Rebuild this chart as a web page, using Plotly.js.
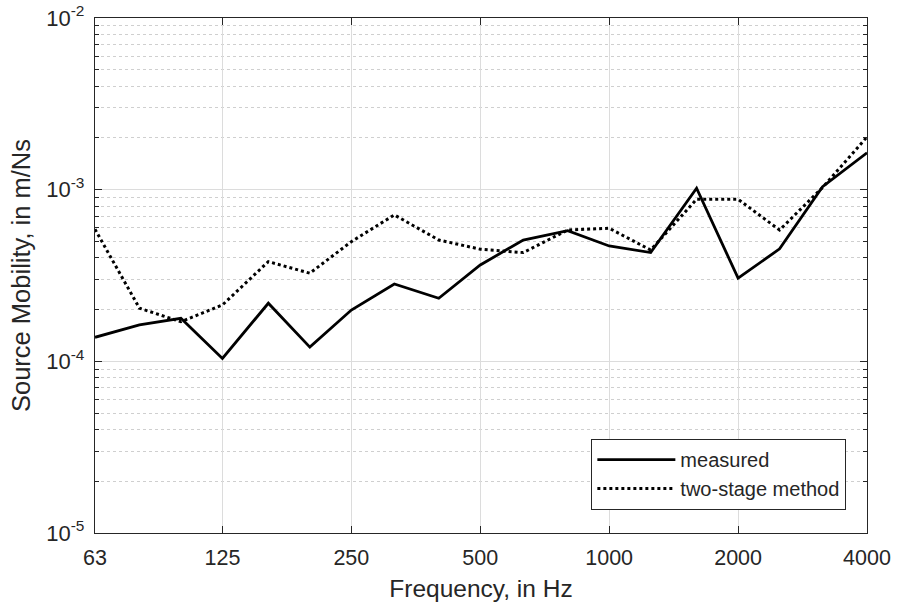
<!DOCTYPE html>
<html><head><meta charset="utf-8">
<script src="https://cdn.plot.ly/plotly-3.0.1.min.js"></script>
<style>html,body{margin:0;padding:0;background:#fff}</style>
</head><body>
<div id="chart" style="width:897px;height:608px"></div>
<script>
const freq = [63, 80, 100, 125, 160, 200, 250, 315, 400, 500, 630, 800, 1000, 1250, 1600, 2000, 2500, 3150, 4000];
const measured = [1.38e-4, 1.63e-4, 1.78e-4, 1.04e-4, 2.18e-4, 1.21e-4, 1.99e-4, 2.82e-4, 2.33e-4, 3.64e-4, 5.09e-4, 5.77e-4, 4.70e-4, 4.30e-4, 1.02e-3, 3.05e-4, 4.52e-4, 1.04e-3, 1.64e-3];
const twoStage = [5.88e-4, 2.04e-4, 1.70e-4, 2.13e-4, 3.81e-4, 3.26e-4, 4.98e-4, 7.13e-4, 5.09e-4, 4.50e-4, 4.30e-4, 5.82e-4, 5.96e-4, 4.45e-4, 8.79e-4, 8.79e-4, 5.82e-4, 1.03e-3, 2.03e-3];
const xTicks = [63, 125, 250, 500, 1000, 2000, 4000];
const xTickText = ['63', '125', '250', '500', '1000', '2000', '4000'];
const yTicks = [1e-5, 1e-4, 1e-3, 1e-2];
const yTickText = ['10<sup>-5</sup>', '10<sup>-4</sup>', '10<sup>-3</sup>', '10<sup>-2</sup>'];

const font = {family: 'Arial, "Liberation Sans", sans-serif', color: '#262626'};
const f = (s) => Object.assign({size: s}, font);
const traces = [
  {x: freq, y: measured, name: 'measured', type: 'scatter', mode: 'lines',
   line: {color: '#000', width: 2.8}},
  {x: freq, y: twoStage, name: 'two-stage method', type: 'scatter', mode: 'lines',
   line: {color: '#000', width: 3, dash: 'dot'}}
];
const layout = {
  width: 897, height: 608,
  margin: {l: 95, r: 30, t: 18, b: 75},
  paper_bgcolor: '#fff', plot_bgcolor: '#fff',
  font: f(20),
  showlegend: true,
  legend: {x: 0.973, y: 0.045, xanchor: 'right', yanchor: 'bottom',
    bgcolor: '#fff', bordercolor: '#262626', borderwidth: 1.2,
    font: f(20), tracegroupgap: 0, itemwidth: 78},
  xaxis: {
    type: 'log', range: [Math.log10(63), Math.log10(4000)],
    tickmode: 'array', tickvals: xTicks, ticktext: xTickText,
    ticks: 'inside', ticklen: 7, tickcolor: '#262626', tickwidth: 1,
    showline: true, linecolor: '#262626', linewidth: 1.2, mirror: 'ticks',
    showgrid: true, gridcolor: '#dcdcdc', gridwidth: 1, zeroline: false,
    tickfont: f(21.5), ticklabelstandoff: 5,
    title: {text: 'Frequency, in Hz', font: f(24.5), standoff: 10}
  },
  yaxis: {
    type: 'log', range: [-5, -2],
    tickmode: 'array', tickvals: yTicks, ticktext: yTickText,
    ticks: 'inside', ticklen: 7, tickcolor: '#262626', tickwidth: 1,
    showline: true, linecolor: '#262626', linewidth: 1.2, mirror: 'ticks',
    showgrid: true, gridcolor: '#dcdcdc', gridwidth: 1, zeroline: false,
    tickfont: f(22), ticklabelstandoff: 5,
    minor: {dtick: 'D1', ticks: 'inside', ticklen: 4, tickcolor: '#262626',
      showgrid: true, gridcolor: '#cfcfcf', griddash: 'dot', gridwidth: 1},
    title: {text: 'Source Mobility, in m/Ns', font: f(25.5), standoff: 8}
  }
};
Plotly.newPlot('chart', traces, layout, {displayModeBar: false, staticPlot: true});
</script>
</body></html>
